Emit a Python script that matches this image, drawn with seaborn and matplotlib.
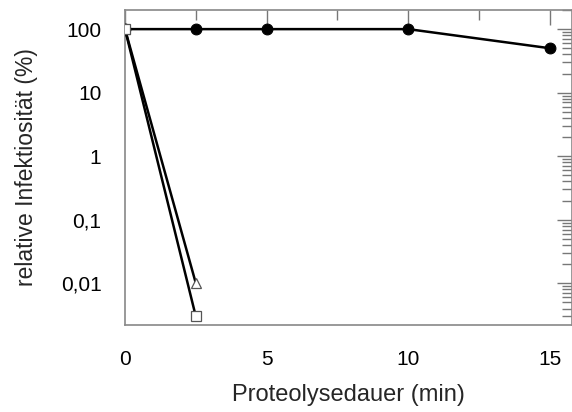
import matplotlib
matplotlib.use("Agg")
import matplotlib.pyplot as plt
import seaborn as sns
import pandas as pd
from matplotlib.ticker import FixedLocator, LogLocator, NullFormatter, FixedFormatter

sns.set_theme(style="white")
plt.rcParams['font.family'] = ['Liberation Sans', 'DejaVu Sans']

# Data
time_circle = [0, 2.5, 5, 10, 15]
inf_circle = [100, 100, 100, 100, 50]
time_triangle = [0, 2.5]
inf_triangle = [100, 0.01]
time_square = [0, 2.5]
inf_square = [100, 0.003]

x_ticks = [0, 5, 10, 15]
x_ticklabels = ["0", "5", "10", "15"]
y_ticks = [100, 10, 1, 0.1, 0.01]
y_ticklabels = ["100", "10", "1", "0,1", "0,01"]

fig = plt.figure(figsize=(5.72, 4.12), dpi=100)
ax = fig.add_axes([125/572, 1-325/412, 1-125/572, (325-10)/412])

df_c = pd.DataFrame({"t": time_circle, "v": inf_circle})
df_t = pd.DataFrame({"t": time_triangle, "v": inf_triangle})
df_s = pd.DataFrame({"t": time_square, "v": inf_square})

sns.lineplot(data=df_c, x="t", y="v", ax=ax, color="black", lw=1.8, marker="o",
             markersize=7.8, markerfacecolor="black", markeredgecolor="black", zorder=3)
sns.lineplot(data=df_t, x="t", y="v", ax=ax, color="black", lw=1.8, marker="^",
             markersize=7.5, markerfacecolor="white", markeredgecolor="#555555",
             markeredgewidth=0.9, zorder=4)
sns.lineplot(data=df_s, x="t", y="v", ax=ax, color="black", lw=1.8, marker="s",
             markersize=7.3, markerfacecolor="white", markeredgecolor="#555555",
             markeredgewidth=0.9, zorder=5)

ax.set_yscale("log")
ax.set_xlim(0, 15.78)
ax.set_ylim(0.0022, 200)

ax.xaxis.set_major_locator(FixedLocator(x_ticks))
ax.xaxis.set_major_formatter(FixedFormatter(x_ticklabels))
ax.xaxis.set_minor_locator(FixedLocator([2.5, 7.5, 12.5]))
ax.yaxis.set_major_locator(FixedLocator(y_ticks))
ax.yaxis.set_major_formatter(FixedFormatter(y_ticklabels))
ax.yaxis.set_minor_locator(LogLocator(base=10, subs=range(2, 10), numticks=20))
ax.yaxis.set_minor_formatter(NullFormatter())

ax.tick_params(which="both", direction="in", top=True, right=True, colors="#777777",
               labelcolor="black", labelsize=15)
ax.tick_params(which="major", length=11, width=1.0)
ax.tick_params(which="minor", length=7, width=1.0)
ax.tick_params(axis="x", which="major", pad=18)
ax.tick_params(axis="y", which="major", pad=17)

for s in ax.spines.values():
    s.set_color("#888888")
    s.set_linewidth(1.2)

ax.set_xlabel("Proteolysedauer (min)", fontsize=17, labelpad=11)
ax.set_ylabel("relative Infektiosität (%)", fontsize=16.5, labelpad=16)
ax.grid(False)

fig.savefig("out.png", dpi=100)
